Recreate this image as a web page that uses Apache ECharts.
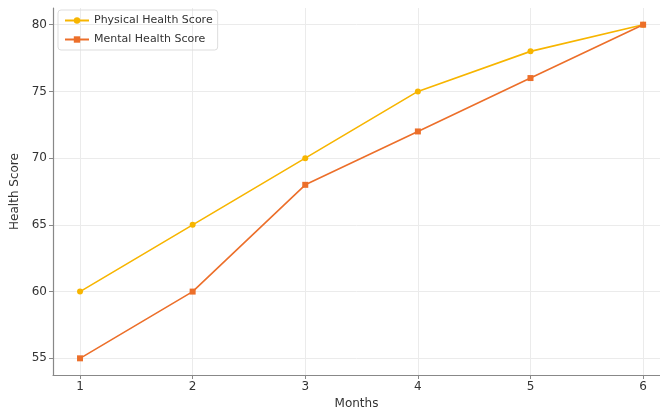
<!DOCTYPE html>
<html><head><meta charset="utf-8">
<script src="https://cdn.jsdelivr.net/npm/echarts@6/dist/echarts.min.js"></script>
<style>html,body{margin:0;padding:0;background:#fff}#c{width:660px;height:411px}</style>
</head><body><div id="c"></div>
<script>
const months = [1, 2, 3, 4, 5, 6];
const physical = [60, 65, 70, 75, 78, 80];
const mental = [55, 60, 68, 72, 76, 80];
const yTicks = [55, 60, 65, 70, 75, 80];

const font = 'DejaVu Sans';
const chart = echarts.init(document.getElementById('c'), null, {renderer: 'canvas'});
chart.setOption({
  animation: false,
  backgroundColor: '#fff',
  grid: {left: 53, right: 0, top: 8, bottom: 36, containLabel: false, outerBoundsMode: 'none'},
  legend: {
    left: 58, top: 10, orient: 'vertical', itemGap: 8,
    padding: [5, 5, 5, 6], borderColor: '#ddd', borderWidth: 1, borderRadius: 3,
    itemWidth: 24, itemHeight: 8,
    textStyle: {fontFamily: font, fontSize: 11, color: '#333'},
    data: ['Physical Health Score', 'Mental Health Score']
  },
  xAxis: {
    type: 'value', min: 0.76, max: 6.15,
    name: 'Months', nameLocation: 'middle', nameGap: 22,
    nameTextStyle: {fontFamily: font, fontSize: 12, color: '#333'},
    axisLine: {lineStyle: {color: '#888', width: 1.2}},
    axisTick: {show: true, customValues: months, length: 4, lineStyle: {color: '#888'}},
    axisLabel: {customValues: months, fontFamily: font, fontSize: 12, color: '#333', margin: 6},
    splitLine: {show: true, lineStyle: {color: '#ebebeb', width: 1}}
  },
  yAxis: {
    type: 'value', min: 53.75, max: 81.25,
    name: 'Health Score', nameLocation: 'middle', nameGap: 27,
    nameTextStyle: {fontFamily: font, fontSize: 12, color: '#333'},
    axisLine: {show: true, lineStyle: {color: '#888', width: 1.2}},
    axisTick: {show: true, customValues: yTicks, length: 4, lineStyle: {color: '#888'}},
    axisLabel: {customValues: yTicks, fontFamily: font, fontSize: 12, color: '#333', margin: 6},
    splitLine: {show: true, lineStyle: {color: '#ebebeb', width: 1}}
  },
  series: [
    {name: 'Physical Health Score', type: 'line', data: months.map((m, i) => [m, physical[i]]),
     symbol: 'circle', symbolSize: 6, itemStyle: {color: '#F7B500'}, lineStyle: {color: '#F7B500', width: 1.6}},
    {name: 'Mental Health Score', type: 'line', data: months.map((m, i) => [m, mental[i]]),
     symbol: 'rect', symbolSize: 6, itemStyle: {color: '#EC6F2A'}, lineStyle: {color: '#EC6F2A', width: 1.6}}
  ]
});
</script></body></html>
